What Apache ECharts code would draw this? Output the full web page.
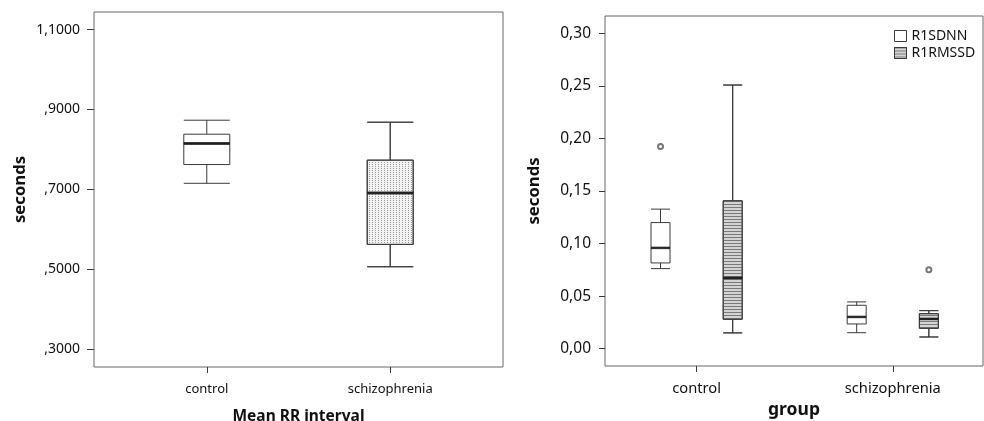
<!DOCTYPE html>
<html>
<head>
<meta charset="utf-8">
<script src="https://cdn.jsdelivr.net/npm/echarts@6/dist/echarts.min.js"></script>
<style>
  html, body { margin: 0; padding: 0; background: #fff; }
  #chart { width: 984px; height: 421px; }
</style>
</head>
<body>
<div id="chart"></div>
<script>
// groups on the x axis
var groups = ['control', 'schizophrenia'];

// box stats per group: [min, Q1, median, Q3, max]
var meanRR = [
    [0.715, 0.762, 0.815, 0.838, 0.873],
    [0.506, 0.562, 0.691, 0.773, 0.868]
];
var sdnn = [
    [0.0762, 0.0816, 0.0959, 0.1200, 0.1328],
    [0.0152, 0.0235, 0.0302, 0.0413, 0.0445]
];
var rmssd = [
    [0.0150, 0.0280, 0.0673, 0.1407, 0.2509],
    [0.0111, 0.0194, 0.0283, 0.0333, 0.0362]
];
// outliers: [group index, value]
var sdnnOutliers = [[0, 0.1924]];
var rmssdOutliers = [[1, 0.0752]];

var leftTicks = [0.3, 0.5, 0.7, 0.9, 1.1];
var rightTicks = [0, 0.05, 0.10, 0.15, 0.20, 0.25, 0.30];

var font = 'Noto Sans';
var ink = '#111';
var line = '#3a3a3a';

function boxData(stats, styles) {
    return stats.map(function (s, i) {
        var item = { value: [i + 1].concat(s) };
        if (styles && styles[i]) item.itemStyle = styles[i];
        return item;
    });
}
function medianData(stats) {
    return stats.map(function (s, i) { return [i + 1, s[2]]; });
}
function outlierData(list) {
    return list.map(function (o) { return [o[0] + 1, o[1]]; });
}
function groupLabel(v) {
    var i = Math.round(v) - 1;
    return groups[i] || '';
}

var dots = {
    symbol: 'rect', symbolSize: 1, color: '#9a9a9a',
    dashArrayX: [1, 2], dashArrayY: [1, 1], rotation: 0
};
var stripes = {
    symbol: 'rect', symbolSize: 1, color: '#7a7a7a',
    dashArrayX: [1, 0], dashArrayY: [1, 2], rotation: 0
};

// right chart: sub-boxes sit either side of the group tick
var rMin = 0.533, rMax = 2.46, subShift = 0.184;

var chart = echarts.init(document.getElementById('chart'));
chart.setOption({
    animation: false,
    textStyle: { fontFamily: font },
    legend: {
        orient: 'vertical',
        left: 894, top: 29, padding: 0,
        itemWidth: 12, itemHeight: 11, itemGap: 3, itemTextGap: 5,
        icon: 'rect',
        data: [
            { name: 'R1SDNN', itemStyle: { color: '#fff', borderColor: line, borderWidth: 1 } },
            { name: 'R1RMSSD', itemStyle: { color: '#d4d4d4', borderColor: line, borderWidth: 1, decal: stripes } }
        ],
        textStyle: { fontFamily: font, fontSize: 14, color: ink }
    },
    grid: [
        { left: 94, top: 12, width: 409, height: 355, outerBoundsMode: 'none', show: true, borderColor: '#666', borderWidth: 1 },
        { left: 605, top: 16, width: 378, height: 350, outerBoundsMode: 'none', show: true, borderColor: '#666', borderWidth: 1 }
    ],
    xAxis: [
        {
            gridIndex: 0, type: 'value', min: 0.385, max: 2.615,
            name: 'Mean RR interval', nameLocation: 'middle', nameGap: 42,
            nameTextStyle: { fontFamily: font, fontSize: 15.5, fontWeight: 'bold', color: ink },
            axisLine: { show: false, onZero: false }, splitLine: { show: false },
            axisTick: { show: true, inside: false, length: 6, customValues: [1, 2], lineStyle: { color: line } },
            axisLabel: { customValues: [1, 2], formatter: groupLabel, margin: 16, fontSize: 13, color: ink }
        },
        {
            gridIndex: 1, type: 'value', min: rMin, max: rMax,
            name: 'group', nameLocation: 'middle', nameGap: 35,
            nameTextStyle: { fontFamily: font, fontSize: 17.5, fontWeight: 'bold', color: ink },
            axisLine: { show: false, onZero: false }, splitLine: { show: false },
            axisTick: { show: true, inside: false, length: 6, customValues: [1, 2], lineStyle: { color: line } },
            axisLabel: { customValues: [1, 2], formatter: groupLabel, margin: 15, fontSize: 14.7, color: ink }
        },
        { gridIndex: 1, type: 'value', min: rMin + subShift, max: rMax + subShift, show: false, axisLine: { onZero: false } },
        { gridIndex: 1, type: 'value', min: rMin - subShift, max: rMax - subShift, show: false, axisLine: { onZero: false } }
    ],
    yAxis: [
        {
            gridIndex: 0, type: 'value', min: 0.255, max: 1.144,
            name: 'seconds', nameLocation: 'middle', nameGap: 65,
            nameTextStyle: { fontFamily: font, fontSize: 16.7, fontWeight: 'bold', color: ink },
            axisLine: { show: false, onZero: false }, splitLine: { show: false },
            axisTick: { show: true, length: 7, customValues: leftTicks, lineStyle: { color: line } },
            axisLabel: {
                customValues: leftTicks, margin: 14, fontSize: 14, color: ink,
                formatter: function (v) {
                    var s = v.toFixed(4).replace('.', ',');
                    return s.charAt(0) === '0' ? s.slice(1) : s;
                }
            }
        },
        {
            gridIndex: 1, type: 'value', min: -0.0165, max: 0.3166,
            name: 'seconds', nameLocation: 'middle', nameGap: 62,
            nameTextStyle: { fontFamily: font, fontSize: 16.7, fontWeight: 'bold', color: ink },
            axisLine: { show: false, onZero: false }, splitLine: { show: false },
            axisTick: { show: true, length: 6, customValues: rightTicks, lineStyle: { color: line } },
            axisLabel: {
                customValues: rightTicks, margin: 14, fontSize: 15.5, color: ink,
                formatter: function (v) { return v.toFixed(2).replace('.', ','); }
            }
        }
    ],
    series: [
        {
            name: 'Mean RR', type: 'boxplot', xAxisIndex: 0, yAxisIndex: 0,
            boxWidth: [46, 46],
            itemStyle: { color: '#fff', borderColor: line, borderWidth: 1 },
            data: boxData(meanRR, [null, { color: '#f3f3f3', decal: dots }])
        },
        {
            name: 'Mean RR median', type: 'scatter', xAxisIndex: 0, yAxisIndex: 0,
            symbol: 'rect', symbolSize: [46, 3], itemStyle: { color: '#111' }, z: 3,
            data: medianData(meanRR)
        },
        {
            name: 'R1SDNN', type: 'boxplot', xAxisIndex: 2, yAxisIndex: 1,
            boxWidth: [19, 19],
            itemStyle: { color: '#fff', borderColor: line, borderWidth: 1 },
            data: boxData(sdnn)
        },
        {
            name: 'R1RMSSD', type: 'boxplot', xAxisIndex: 3, yAxisIndex: 1,
            boxWidth: [19, 19],
            itemStyle: { color: '#d4d4d4', borderColor: line, borderWidth: 1, decal: stripes },
            data: boxData(rmssd)
        },
        {
            name: 'R1SDNN median', type: 'scatter', xAxisIndex: 2, yAxisIndex: 1,
            symbol: 'rect', symbolSize: [19, 2.5], itemStyle: { color: '#111' }, z: 3,
            data: medianData(sdnn)
        },
        {
            name: 'R1RMSSD median', type: 'scatter', xAxisIndex: 3, yAxisIndex: 1,
            symbol: 'rect', symbolSize: [19, 2.5], itemStyle: { color: '#111' }, z: 3,
            data: medianData(rmssd)
        },
        {
            name: 'R1SDNN outliers', type: 'scatter', xAxisIndex: 2, yAxisIndex: 1,
            symbol: 'emptyCircle', symbolSize: 5,
            itemStyle: { color: '#555', borderWidth: 1 },
            data: outlierData(sdnnOutliers)
        },
        {
            name: 'R1RMSSD outliers', type: 'scatter', xAxisIndex: 3, yAxisIndex: 1,
            symbol: 'emptyCircle', symbolSize: 5,
            itemStyle: { color: '#555', borderWidth: 1 },
            data: outlierData(rmssdOutliers)
        }
    ]
});
</script>
</body>
</html>
